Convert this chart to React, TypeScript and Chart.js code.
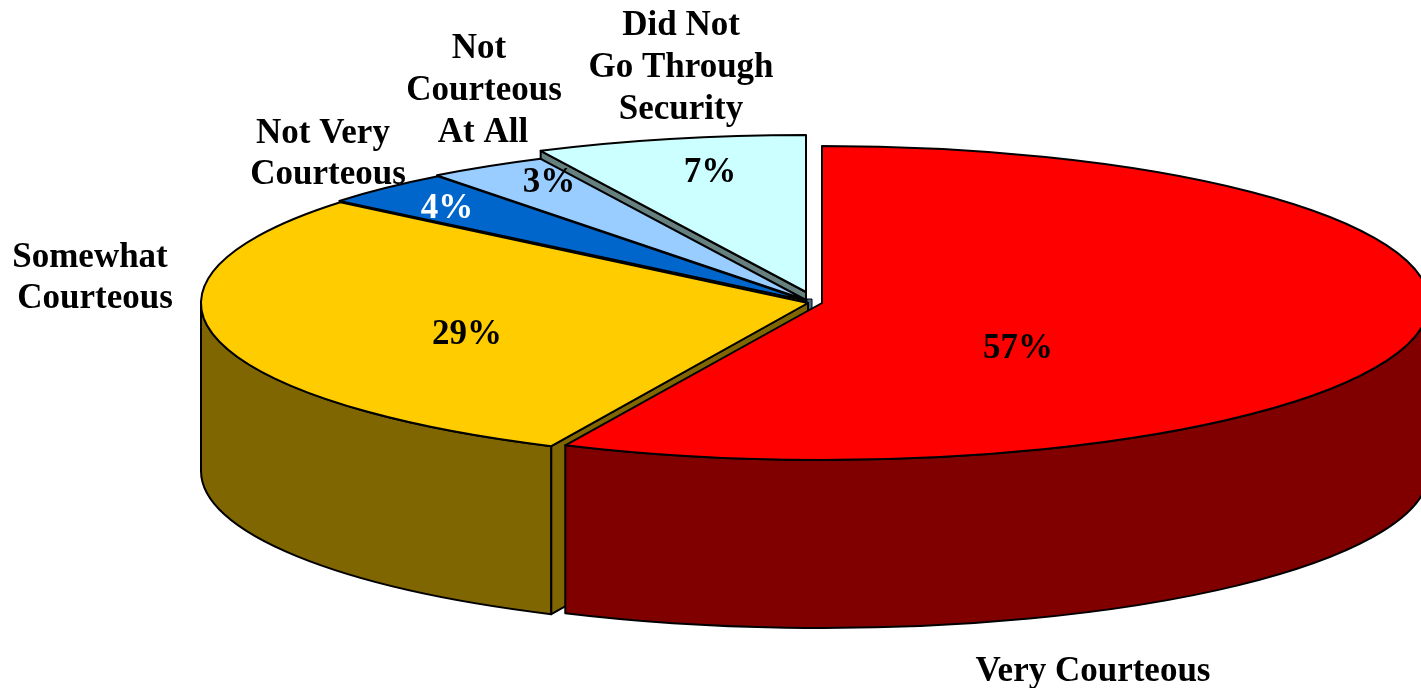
import React, { useEffect, useRef } from "react";
import { Chart, registerables } from "chart.js";

Chart.register(...registerables);

// ---- data ----
const categories = ["Very Courteous", "Somewhat Courteous", "Not Very Courteous", "Not Courteous At All", "Did Not Go Through Security"];
const values = [56.95, 29.05, 3.6, 3.2, 7.2];
const topColors = ["#FF0000", "#FFCC00", "#0066CC", "#99CCFF", "#CCFFFF"];
const wallColors = ["#800000", "#806600", "#003366", "#4D6680", "#668080"];

// ---- layout ----
const W = 1421;
const H = 688;
const RX = 607;
const DEPTH = 168;
const FONT = 'bold 35px "Liberation Serif", "Times New Roman", serif';
// per-slice explosion: centre of each slice on the page and its vertical radius
const sliceCentres = [
  { x: 822, y: 303, ry: 157 },
  { x: 808, y: 303, ry: 158 },
  { x: 807, y: 301, ry: 157 },
  { x: 806, y: 300, ry: 157 },
  { x: 806, y: 292, ry: 157 },
];
const drawOrder = [4, 3, 2, 1, 0];
const categoryLines = [
  [{ t: "Very Courteous", x: 1093, y: 672 }],
  [{ t: "Somewhat", x: 90, y: 258 }, { t: "Courteous", x: 95, y: 299 }],
  [{ t: "Not Very", x: 323, y: 134 }, { t: "Courteous", x: 328, y: 175 }],
  [{ t: "Not", x: 479, y: 49 }, { t: "Courteous", x: 484, y: 91 }, { t: "At All", x: 483, y: 133 }],
  [{ t: "Did Not", x: 681, y: 26 }, { t: "Go Through", x: 681, y: 68 }, { t: "Security", x: 681, y: 110 }],
];
const percentPos = [
  { x: 1018, y: 349, c: "#000" },
  { x: 467, y: 335, c: "#000" },
  { x: 447, y: 209, c: "#fff" },
  { x: 549, y: 183, c: "#000" },
  { x: 710, y: 173, c: "#000" },
];

function wallPath(ctx: CanvasRenderingContext2D, cx: number, cy: number, ry: number, a0: number, a1: number) {
  ctx.beginPath();
  ctx.ellipse(cx, cy, RX, ry, 0, a0, a1);
  ctx.ellipse(cx, cy + DEPTH, RX, ry, 0, a1, a0, true);
  ctx.closePath();
}

const pie3d = {
  id: "pie3d",
  beforeDatasetDraw(chart: any) {
    const ctx: CanvasRenderingContext2D = chart.ctx;
    const arcs = chart.getDatasetMeta(0).data;
    ctx.save();
    ctx.lineJoin = "round";
    ctx.strokeStyle = "#000";
    ctx.lineWidth = 2;
    for (const i of drawOrder) {
      const arc = arcs[i];
      const c = sliceCentres[i];
      const a0 = arc.startAngle;
      const a1 = arc.endAngle;
      if (i === 1) {
        // the small sliver of the narrow slices' sides, visible at the hub
        ctx.fillStyle = wallColors[3];
        ctx.fillRect(807, 299, 5, 11);
        ctx.lineWidth = 1;
        ctx.strokeRect(807, 299, 5, 11);
        ctx.lineWidth = 2;
      }
      // visible part of the outer wall: the front half of the ellipse
      const w0 = Math.max(a0, 0);
      const w1 = Math.min(a1, Math.PI);
      if (w1 > w0) {
        wallPath(ctx, c.x, c.y, c.ry, w0, w1);
        ctx.fillStyle = wallColors[i];
        ctx.fill();
        ctx.stroke();
      }
      // cut face at the slice's leading (angle-start) edge, seen through the gaps
      if (i === 1 || i === 4) {
        const px = c.x + Math.cos(a0) * RX;
        const py = c.y + Math.sin(a0) * c.ry;
        ctx.beginPath();
        ctx.moveTo(c.x, c.y);
        ctx.lineTo(px, py);
        ctx.lineTo(px, py + DEPTH);
        ctx.lineTo(c.x, c.y + DEPTH);
        ctx.closePath();
        ctx.fillStyle = wallColors[i];
        ctx.fill();
        ctx.stroke();
      }
      // top face, drawn by the library's own arc element in a flattened space
      ctx.save();
      ctx.translate(c.x, c.y);
      ctx.scale(1, c.ry / RX);
      ctx.translate(-arc.x, -arc.y);
      arc.draw(ctx);
      ctx.restore();
      ctx.beginPath();
      ctx.moveTo(c.x, c.y);
      ctx.ellipse(c.x, c.y, RX, c.ry, 0, a0, a1);
      ctx.closePath();
      ctx.stroke();
    }
    ctx.restore();
    return false;
  },
  afterDatasetsDraw(chart: any) {
    const ctx: CanvasRenderingContext2D = chart.ctx;
    ctx.save();
    ctx.font = FONT;
    ctx.textAlign = "center";
    ctx.textBaseline = "middle";
    ctx.fillStyle = "#000";
    categoryLines.forEach((lines) => lines.forEach((l) => ctx.fillText(l.t, l.x, l.y)));
    values.forEach((v, i) => {
      ctx.fillStyle = percentPos[i].c;
      ctx.fillText(`${Math.round(v)}%`, percentPos[i].x, percentPos[i].y);
    });
    ctx.restore();
  },
};

export default function App() {
  const ref = useRef<HTMLCanvasElement>(null);
  useEffect(() => {
    const chart = new Chart(ref.current as HTMLCanvasElement, {
      type: "pie",
      data: {
        labels: categories,
        datasets: [{ data: values, backgroundColor: topColors, borderWidth: 0 }],
      },
      options: {
        animation: false,
        responsive: false,
        radius: RX,
        layout: { padding: { left: 193, bottom: 88 } },
        plugins: { legend: { display: false }, tooltip: { enabled: false } },
      } as any,
      plugins: [pie3d as any],
    });
    return () => chart.destroy();
  }, []);
  return (
    <canvas
      ref={ref}
      width={W}
      height={H}
      style={{ position: "absolute", left: 0, top: 0, width: W, height: H, background: "#fff" }}
    />
  );
}
